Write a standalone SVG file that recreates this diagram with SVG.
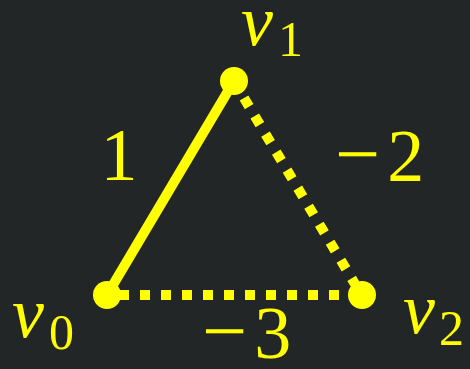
<svg xmlns="http://www.w3.org/2000/svg" width="470" height="369" viewBox="0 0 470 369">
<style>
.bg{fill:#222627}
.e{stroke:#ffff00;stroke-width:10;fill:none}
.dot{stroke-dasharray:10 11}
.n{fill:#ffff00}
.t{fill:#ffff00;font-family:'Liberation Serif','Times New Roman',serif}
.v{font-style:italic;font-size:72px}
.s{font-size:50px}
.w{font-size:74px}
.m{font-size:80px}
</style>
<rect class="bg" x="0" y="0" width="470" height="369"/>
<g id="connectors">
<line class="e" x1="107" y1="295" x2="234" y2="81"/>
<line class="e dot" x1="244" y1="98" x2="355" y2="284"/>
<line class="e dot" x1="119" y1="295" x2="350" y2="295"/>
</g>
<g id="v0"><circle class="n" cx="107" cy="295" r="14"/><text class="t" x="12" y="337"><tspan class="v">v</tspan><tspan class="s" dx="5" dy="12">0</tspan></text></g>
<g id="v1"><circle class="n" cx="234" cy="81" r="14"/><text class="t" x="241" y="45"><tspan class="v">v</tspan><tspan class="s" dx="5" dy="11">1</tspan></text></g>
<g id="v2"><circle class="n" cx="362" cy="295" r="14"/><text class="t" x="403" y="333"><tspan class="v">v</tspan><tspan class="s" dx="4" dy="12">2</tspan></text></g>
<g id="labels">
<text class="t w" x="119" y="180" text-anchor="middle">1</text>
<text class="t w" x="335" y="181"><tspan class="m">−</tspan><tspan dx="7">2</tspan></text>
<text class="t w" x="202" y="358"><tspan class="m">−</tspan><tspan dx="7">3</tspan></text>
</g>
</svg>
